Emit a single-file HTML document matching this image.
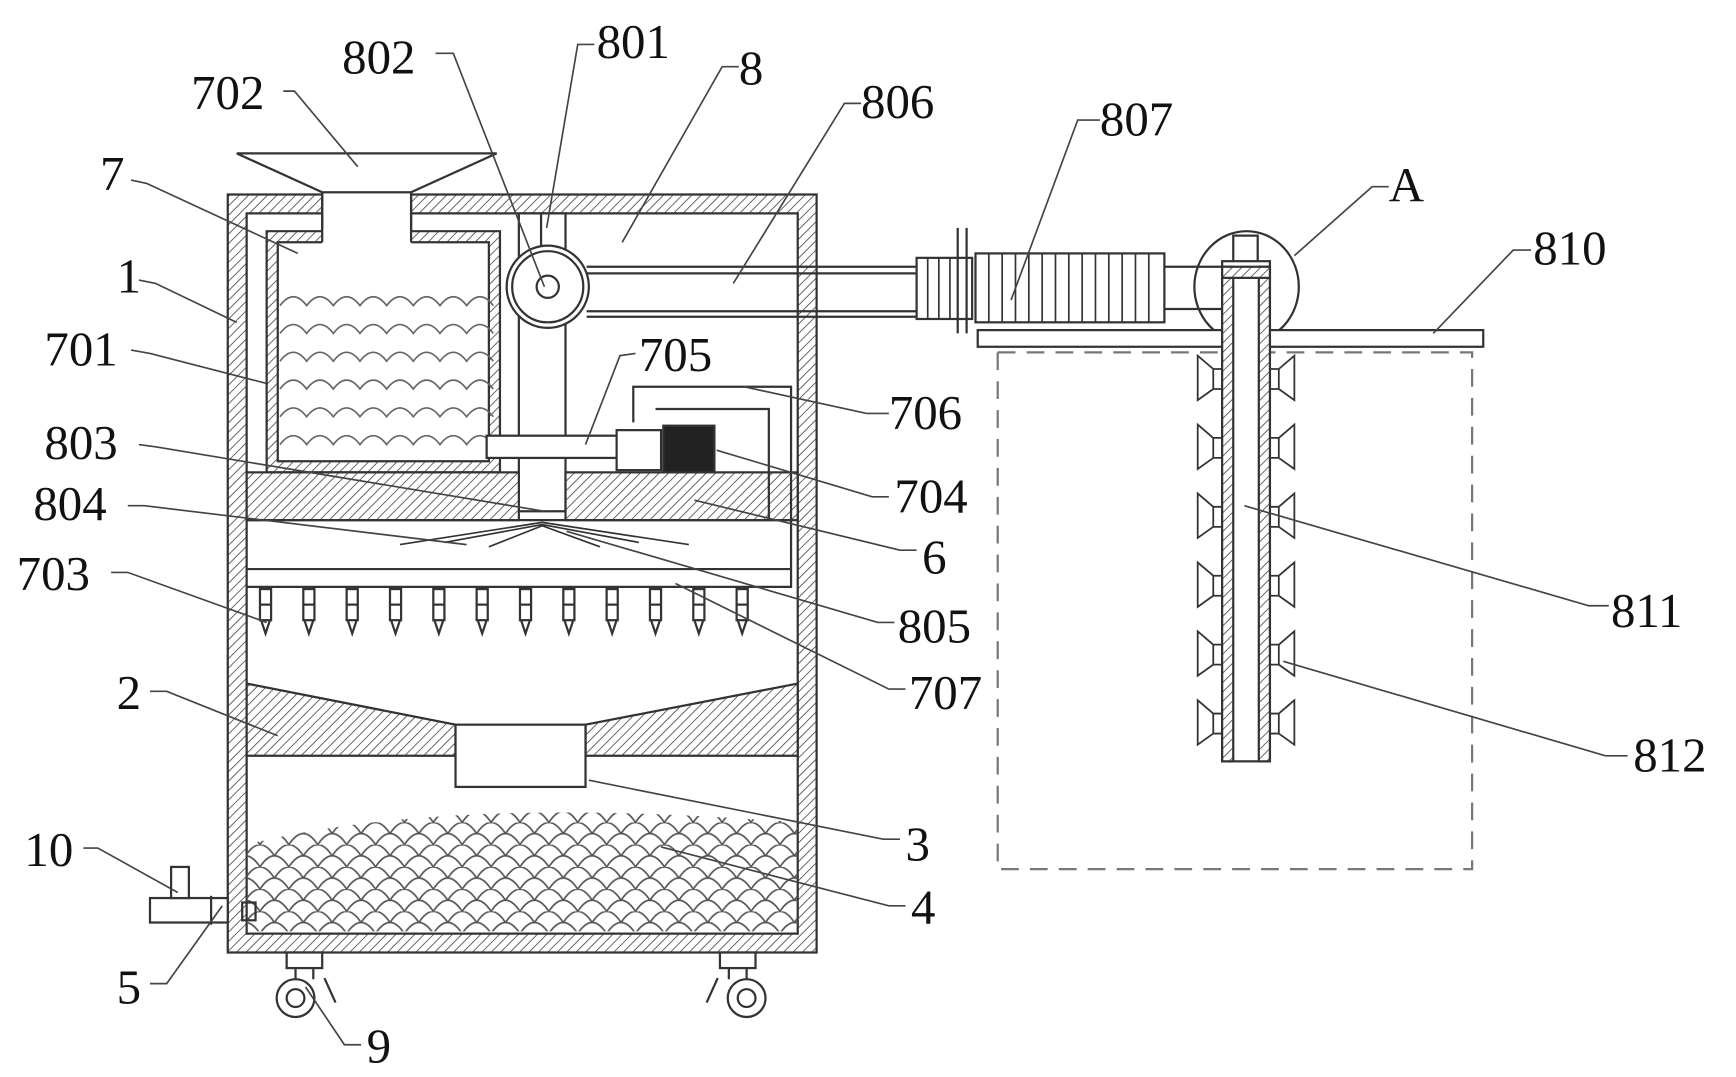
<!DOCTYPE html>
<html><head><meta charset="utf-8"><style>
html,body{margin:0;padding:0;background:#fff;}
svg{display:block;}
text{font-family:"Liberation Serif",serif;font-size:44px;fill:#111;}
</style></head><body>
<svg width="1736" height="1077" viewBox="0 0 1562.5 969" preserveAspectRatio="none" xmlns="http://www.w3.org/2000/svg">
<defs>
<pattern id="h" width="6" height="6" patternUnits="userSpaceOnUse" patternTransform="rotate(45)">
<rect width="6" height="6" fill="#fff"/><line x1="0" y1="0" x2="0" y2="6" stroke="#555" stroke-width="1.6"/>
</pattern>
<pattern id="sc" width="26" height="20" patternUnits="userSpaceOnUse">
<path d="M0 20 Q13 0 26 20 M-13 10 Q0 -10 13 10 M13 10 Q26 -10 39 10" fill="none" stroke="#555" stroke-width="1.5"/>
</pattern>
</defs>
<g stroke="#333" stroke-width="2" fill="none">
<path fill="url(#h)" fill-rule="evenodd" d="M205 175H735V857H205Z M222 192H718V840H222Z"/>
<rect x="290" y="173" width="80" height="37" fill="#fff"/>
<path d="M213 138H447L370 173M213 138L290 173"/>
<path fill="url(#h)" fill-rule="evenodd" d="M240 208H450V425H240Z M250 218H440V415H250Z"/>
<rect x="290" y="206" width="80" height="14" fill="#fff" stroke="none"/>
<line x1="290" y1="173" x2="290" y2="218"/><line x1="370" y1="173" x2="370" y2="218"/>
<g stroke="#666" stroke-width="1.5">
<path d="M252 275 q12 -16 24 0 q12 -16 24 0 q12 -16 24 0 q12 -16 24 0 q12 -16 24 0 q12 -16 24 0 q12 -16 24 0 q12 -16 24 0"/>
<path d="M252 300 q12 -16 24 0 q12 -16 24 0 q12 -16 24 0 q12 -16 24 0 q12 -16 24 0 q12 -16 24 0 q12 -16 24 0 q12 -16 24 0"/>
<path d="M252 325 q12 -16 24 0 q12 -16 24 0 q12 -16 24 0 q12 -16 24 0 q12 -16 24 0 q12 -16 24 0 q12 -16 24 0 q12 -16 24 0"/>
<path d="M252 350 q12 -16 24 0 q12 -16 24 0 q12 -16 24 0 q12 -16 24 0 q12 -16 24 0 q12 -16 24 0 q12 -16 24 0 q12 -16 24 0"/>
<path d="M252 375 q12 -16 24 0 q12 -16 24 0 q12 -16 24 0 q12 -16 24 0 q12 -16 24 0 q12 -16 24 0 q12 -16 24 0 q12 -16 24 0"/>
<path d="M252 400 q12 -16 24 0 q12 -16 24 0 q12 -16 24 0 q12 -16 24 0 q12 -16 24 0 q12 -16 24 0 q12 -16 24 0 q12 -16 24 0"/>
</g>
<rect x="467" y="192" width="42" height="268" fill="#fff"/>
<line x1="487" y1="192" x2="487" y2="225"/>
<circle cx="493" cy="258" r="37" fill="#fff"/><circle cx="493" cy="258" r="32"/><circle cx="493" cy="258" r="10"/>
<path d="M528 240H825M528 246H825M528 280H825M528 285H825" />
<rect x="825" y="232" width="50" height="55" fill="#fff"/>
<line x1="862" y1="205" x2="862" y2="300"/><line x1="870" y1="205" x2="870" y2="300"/>
<rect x="878" y="228" width="170" height="62" fill="#fff"/>
<g stroke-width="1.5"><path d="M835 232V287M845 232V287M855 232V287M890 228V290M902 228V290M914 228V290M926 228V290M938 228V290M950 228V290M962 228V290M974 228V290M986 228V290M998 228V290M1010 228V290M1022 228V290M1034 228V290"/></g>
<path d="M1048 240H1100M1048 278H1100"/>
<ellipse cx="1122" cy="258" rx="47" ry="50"/>
<rect x="1110" y="212" width="22" height="25"/>
<rect x="880" y="297" width="455" height="15" fill="#fff"/>
<path d="M898 317V782H1325V317H898" stroke="#777" stroke-dasharray="16 10"/>
<rect x="1100" y="235" width="43" height="450" fill="#fff"/>
<rect x="1100" y="240" width="10" height="445" fill="url(#h)"/>
<rect x="1133" y="240" width="10" height="445" fill="url(#h)"/>
<rect x="1100" y="240" width="43" height="10" fill="url(#h)"/>
<g id="br" stroke-width="1.6">
<path d="M1100 332h-8v18h8M1092 332l-14 -12v40l14 -10M1143 332h8v18h-8M1151 332l14 -12v40l-14 -10"/>
</g>
<use href="#br" y="62"/><use href="#br" y="124"/><use href="#br" y="186"/><use href="#br" y="248"/><use href="#br" y="310"/>
<rect x="222" y="425" width="245" height="43" fill="url(#h)"/>
<rect x="509" y="425" width="209" height="43" fill="url(#h)"/>
<path d="M222 468H712V512H222 M222 528H712V348H570V380"/>
<path d="M590 368H692V468"/>
<rect x="438" y="392" width="122" height="20" fill="#fff"/>
<rect x="555" y="387" width="40" height="36" fill="#fff"/>
<rect x="597" y="383" width="46" height="42" fill="#222"/>
<path d="M360 490L488 470L620 490M400 488L488 472M575 488L488 472M440 492L488 473L540 492" stroke-width="1.5"/>
<g id="nz"><rect x="234" y="530" width="10" height="28" fill="#fff"/><line x1="234" y1="544" x2="244" y2="544"/><path d="M235 558L239 570L243 558"/></g>
<use href="#nz" x="39"/><use href="#nz" x="78"/><use href="#nz" x="117"/><use href="#nz" x="156"/><use href="#nz" x="195"/><use href="#nz" x="234"/><use href="#nz" x="273"/><use href="#nz" x="312"/><use href="#nz" x="351"/><use href="#nz" x="390"/><use href="#nz" x="429"/>
<path fill="url(#h)" d="M222 615L410 652V680H222Z"/>
<path fill="url(#h)" d="M718 615L527 652V680H718Z"/>
<rect x="410" y="652" width="117" height="56" fill="#fff"/>
<path fill="url(#sc)" stroke="none" d="M222 760Q400 715 718 740V838H222Z"/>
<rect x="135" y="808" width="70" height="22" fill="#fff"/>
<line x1="190" y1="806" x2="190" y2="832"/>
<rect x="154" y="780" width="16" height="28" fill="#fff"/>
<rect x="218" y="812" width="12" height="16"/>
<g id="wh"><rect x="258" y="857" width="32" height="14" fill="#fff"/><path d="M266 871v10M282 871v10M292 880l10 22"/><circle cx="266" cy="898" r="17" fill="#fff"/><circle cx="266" cy="898" r="8"/></g>
<g transform="translate(938 0) scale(-1 1)"><use href="#wh"/></g>
<g stroke="#444" stroke-width="1.5">
<path d="M255 82L265 82L322 150"/>
<path d="M392 48L408 48L490 258"/>
<path d="M535 40L520 40L492 205"/>
<path d="M665 60L650 60L560 218"/>
<path d="M775 93L760 93L660 255"/>
<path d="M990 108L970 108L910 270"/>
<path d="M1250 168L1235 168L1165 230"/>
<path d="M1378 225L1362 225L1290 300"/>
<path d="M118 162L132 165L268 228"/>
<path d="M125 252L140 255L213 290"/>
<path d="M118 315L135 318L240 345"/>
<path d="M572 318L558 320L527 400"/>
<path d="M800 372L780 372L670 348"/>
<path d="M125 400L140 402L490 460"/>
<path d="M800 447L785 447L645 405"/>
<path d="M115 455L130 455L420 490"/>
<path d="M825 495L810 495L625 450"/>
<path d="M100 515L115 515L240 560"/>
<path d="M805 560L790 560L510 478"/>
<path d="M815 620L800 620L608 525"/>
<path d="M1448 545L1430 545L1120 455"/>
<path d="M135 622L150 622L250 662"/>
<path d="M1465 680L1445 680L1155 595"/>
<path d="M810 755L795 755L530 702"/>
<path d="M75 763L88 763L160 803"/>
<path d="M815 815L800 815L595 762"/>
<path d="M135 885L150 885L200 815"/>
<path d="M325 940L310 940L275 888"/>
</g>
</g>
<text x="172" y="98">702</text>
<text x="308" y="66">802</text>
<text x="537" y="52">801</text>
<text x="665" y="76">8</text>
<text x="775" y="106">806</text>
<text x="990" y="122">807</text>
<text x="1250" y="181">A</text>
<text x="1380" y="238">810</text>
<text x="90" y="171">7</text>
<text x="105" y="263">1</text>
<text x="40" y="329">701</text>
<text x="575" y="334">705</text>
<text x="800" y="386">706</text>
<text x="40" y="413">803</text>
<text x="805" y="461">704</text>
<text x="30" y="468">804</text>
<text x="830" y="516">6</text>
<text x="15" y="531">703</text>
<text x="808" y="578">805</text>
<text x="818" y="638">707</text>
<text x="1450" y="564">811</text>
<text x="105" y="638">2</text>
<text x="1470" y="694">812</text>
<text x="815" y="774">3</text>
<text x="22" y="779">10</text>
<text x="820" y="831">4</text>
<text x="105" y="903">5</text>
<text x="330" y="956">9</text>
</svg>
</body></html>
